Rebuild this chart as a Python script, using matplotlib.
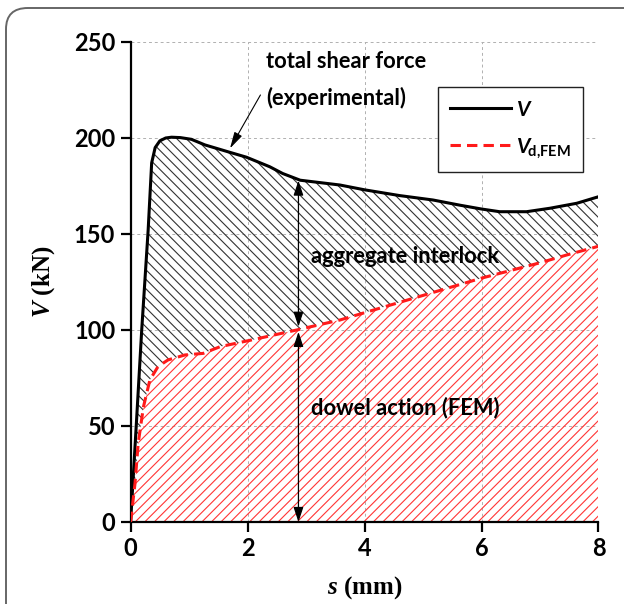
import matplotlib
matplotlib.use('Agg')
import matplotlib.pyplot as plt
from matplotlib.patches import FancyBboxPatch
import numpy as np

# total shear force (experimental)
s_v = [0, 0.10, 0.19, 0.30, 0.36, 0.42, 0.50, 0.60, 0.70, 0.85, 1.04, 1.27, 1.70, 1.98, 2.38, 2.60,
       2.90, 3.58, 4.00, 4.60, 5.17, 5.63, 6.00, 6.31, 6.77, 7.17, 7.63, 8.00]
v_exp = [0, 52, 100, 152, 187, 195, 198.5, 200, 200.4, 200.2, 199.3, 196.4, 192.5, 190, 185, 181.5,
         178, 175.5, 173, 170, 167.7, 165, 163, 161.6, 161.6, 163.4, 166, 169.4]
# dowel action from FEM
s_d = [0, 0.075, 0.13, 0.22, 0.33, 0.47, 0.64, 0.93, 1.24, 1.53, 2.10, 2.84, 3.58, 4.00, 5.00,
       6.00, 7.00, 7.45, 8.00]
v_dfem = [0, 20, 41, 60, 74, 81, 84.4, 87, 87.8, 91.3, 95, 100, 105.2, 109, 118, 127, 135, 139, 143.6]

x_ticks = [0, 2, 4, 6, 8]
y_ticks = [0, 50, 100, 150, 200, 250]

plt.rcParams.update({
    'font.family': ['Lato', 'DejaVu Sans'],
    'font.weight': 'bold',
    'mathtext.fontset': 'custom',
    'mathtext.rm': 'Liberation Serif:bold',
    'mathtext.it': 'Liberation Serif:italic:bold',
    'mathtext.sf': 'Lato:italic:bold',
    'mathtext.bf': 'Lato:bold',
    'hatch.linewidth': 0.4,
})

fig = plt.figure(figsize=(3.12, 3.02), dpi=200)
ax = fig.add_axes([0.2093, 0.1358, 0.7498, 0.7947])

# outer frame
fig.patches.append(FancyBboxPatch((6/624, -0.1), 1.2, 0.1 + 1 - 8/604, transform=fig.transFigure,
                                  boxstyle='round,pad=0,rounding_size=0.035', fc='none',
                                  ec='#666666', lw=0.7, zorder=0))

# hatched areas
poly_x = np.r_[s_v, s_d[::-1]]
poly_y = np.r_[v_exp, v_dfem[::-1]]
ax.fill(poly_x, poly_y, facecolor='none', edgecolor='#333333', hatch='\\' * 7, lw=0, zorder=1)
ax.fill_between(s_d, v_dfem, 0, facecolor='none', edgecolor='#ff3535', hatch='/' * 7, lw=0, zorder=1)

ax.plot(s_v, v_exp, color='black', lw=1.1, zorder=4, label=r'$\mathsf{V}$',
        solid_joinstyle='round')
ax.plot(s_d, v_dfem, color='#ff1a1a', lw=1.1, ls=(0, (3.4, 2.0)), zorder=4,
        label=r'$\mathsf{V}_{\!\mathbf{d{,}FEM}}$')

# dimension arrows
arr = dict(arrowstyle='-|>,head_length=0.45,head_width=0.15', color='black', lw=0.45,
           shrinkA=0, shrinkB=0)
ax.annotate('', xy=(2.87, 177.8), xytext=(2.87, 140), arrowprops=arr, zorder=5)
ax.annotate('', xy=(2.87, 101.7), xytext=(2.87, 140), arrowprops=arr, zorder=5)
ax.annotate('', xy=(2.87, 99), xytext=(2.87, 50), arrowprops=arr, zorder=5)
ax.annotate('', xy=(2.87, 0), xytext=(2.87, 50), arrowprops=arr, zorder=5)

# labels
txt = dict(fontsize=7.9, va='center', ha='left', zorder=6)
ax.text(2.32, 239.6, 'total shear force', **txt)
ax.text(2.32, 220.8, '(experimental)', **txt)
ax.annotate('', xy=(1.70, 194.6), xytext=(2.22, 222.4),
            arrowprops=dict(arrowstyle='-|>,head_length=0.5,head_width=0.13', color='black',
                            lw=0.4, shrinkA=0, shrinkB=0))
ax.text(3.08, 138.5, 'aggregate interlock', **txt)
ax.text(3.08, 59.4, 'dowel action (FEM)', **txt)

leg = ax.legend(loc='upper left', bbox_to_anchor=(0.657, 0.906), fontsize=7.5, frameon=True,
                fancybox=False, edgecolor='#222222', framealpha=1, handlelength=2.9,
                borderpad=0.6, labelspacing=0.8, handletextpad=0.25, borderaxespad=0)
leg.get_frame().set_linewidth(0.5)

ax.set_xlim(0, 8)
ax.set_ylim(0, 250)
ax.set_xticks(x_ticks)
ax.set_yticks(y_ticks)
ax.grid(True, color='#b0b0b0', ls=(0, (3, 3)), lw=0.35)
ax.set_axisbelow(True)
for side in ('top', 'right'):
    ax.spines[side].set_visible(False)
for side in ('left', 'bottom'):
    ax.spines[side].set_linewidth(0.8)
ax.tick_params(direction='out', length=3.5, width=0.8, labelsize=8.5, pad=2)

ax.set_ylabel(r'$V$ (kN)', fontsize=9, fontfamily='Liberation Serif', fontweight='bold', labelpad=6)
ax.set_xlabel(r'$s$ (mm)', fontsize=9, fontfamily='Liberation Serif', fontweight='bold', labelpad=5)

fig.savefig('out.png', dpi=200)
